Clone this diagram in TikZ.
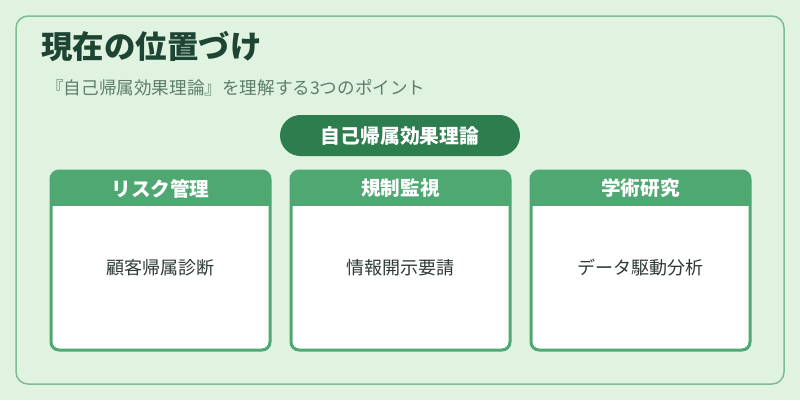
\documentclass[tikz,border=0pt]{standalone}
\usepackage{fontspec}
\setmainfont{Noto Sans CJK JP}
\newfontfamily\jp{Noto Sans CJK JP}
\definecolor{bgc}{HTML}{E0F2E0}
\definecolor{outerb}{HTML}{7DBB91}
\definecolor{cardg}{HTML}{4FA872}
\definecolor{pillg}{HTML}{2E7D4F}
\definecolor{titlec}{HTML}{1E4534}
\definecolor{subc}{HTML}{5E7E6C}
\definecolor{bodyc}{HTML}{2F3A34}
\tikzset{
  titletext/.style={anchor=west, inner sep=0, text=titlec, font=\jp\bfseries\fontsize{31.5}{33}\selectfont},
  subtext/.style={anchor=west, inner sep=0, text=subc, font=\jp\fontsize{17.6}{19}\selectfont},
  pill/.style={fill=pillg, rounded corners=20.5pt, minimum width=240pt, minimum height=41pt, inner sep=0, text=white, font=\jp\bfseries\fontsize{19.8}{21}\selectfont},
  headtext/.style={inner sep=0, text=white, font=\jp\bfseries\fontsize{19.6}{21}\selectfont},
  bodytext/.style={inner sep=0, text=bodyc, font=\jp\fontsize{18}{19}\selectfont},
}
\begin{document}
\begin{tikzpicture}[x=1pt,y=-1pt]
\fill[bgc] (0,0) rectangle (800,400);
\useasboundingbox (0,0) rectangle (800,400);
\draw[outerb, line width=1.5pt, rounded corners=12pt] (16,16) rectangle (784,384);
\node[titletext] (title) at (41,46.5) {現在の位置づけ};
\node[subtext] (sub) at (46,88) {『自己帰属効果理論』を理解する3つのポイント};
\node[pill] (pill) at (400,135.5) {自己帰属効果理論};
\foreach \x/\h/\b/\n in {51/リスク管理/顧客帰属診断/a, 291/規制監視/情報開示要請/b, 531/学術研究/データ駆動分析/c}{
  \fill[white, rounded corners=8pt] (\x,171) rectangle (\x+219,350);
  \begin{scope}
    \clip[rounded corners=8pt] (\x,171) rectangle (\x+219,350);
    \fill[cardg] (\x,171) rectangle (\x+219,206);
  \end{scope}
  \draw[cardg, line width=3pt, rounded corners=8pt] (\x,171) rectangle (\x+219,350);
  \node[headtext] (head\n) at (\x+109.5,188.5) {\h};
  \node[bodytext] (body\n) at (\x+109.5,268) {\b};
}
\end{tikzpicture}
\end{document}
